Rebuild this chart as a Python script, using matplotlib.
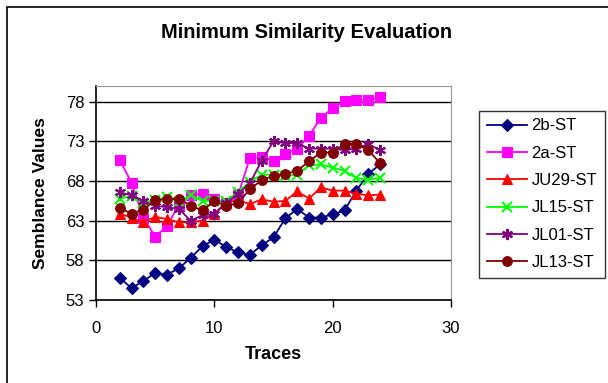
import matplotlib
matplotlib.use("Agg")
import matplotlib.pyplot as plt
from matplotlib.patches import Rectangle

plt.rcParams['font.family'] = ['Liberation Sans', 'DejaVu Sans']

# data
traces = list(range(2, 25))
st_2b = [55.8, 54.5, 55.4, 56.4, 56.2, 57.0, 58.3, 59.8, 60.6, 59.7, 59.0, 58.7,
         59.9, 60.9, 63.3, 64.5, 63.4, 63.4, 63.8, 64.3, 66.8, 68.9, 70.1]
st_2a = [70.7, 67.8, 63.4, 61.0, 62.3, 65.0, 66.2, 66.4, 65.7, 65.3, 66.2, 70.9,
         71.0, 70.6, 71.4, 72.1, 73.7, 76.0, 77.2, 78.1, 78.2, 78.2, 78.6]
ju29 = [63.9, 63.4, 62.8, 63.5, 63.2, 62.8, 62.8, 63.0, 63.9, 65.3, 65.6, 65.1,
        65.7, 65.4, 65.5, 66.7, 65.8, 67.2, 66.8, 66.8, 66.4, 66.2, 66.3]
jl15 = [65.8, 66.1, 65.3, 65.6, 66.0, 65.4, 66.2, 65.5, 65.5, 65.5, 66.6, 67.9,
        68.8, 68.8, 68.7, 68.8, 70.0, 70.1, 69.7, 69.3, 68.4, 68.2, 68.4]
jl01 = [66.6, 66.2, 65.5, 64.9, 64.7, 64.5, 63.0, 63.7, 63.8, 65.3, 66.4, 67.7,
        70.6, 73.0, 72.8, 72.8, 72.1, 72.1, 72.1, 71.9, 72.1, 72.7, 71.9]
jl13 = [64.6, 63.9, 64.4, 65.6, 65.7, 65.8, 64.9, 64.3, 65.5, 64.9, 65.2, 67.0,
        68.1, 68.7, 68.9, 69.3, 70.5, 71.6, 71.6, 72.7, 72.7, 71.9, 70.3]

names = ["2b-ST", "2a-ST", "JU29-ST", "JL15-ST", "JL01-ST", "JL13-ST"]
series = [st_2b, st_2a, ju29, jl15, jl01, jl13]
colors = ["#000080", "#FF00FF", "#FF0000", "#00FF00", "#800080", "#800000"]
markers = ["D", "s", "^", "x", (6, 2, 0), "o"]
msizes = [6, 6.5, 7, 7, 8, 7]

W, H = 608, 383
fig = plt.figure(figsize=(W / 100, H / 100), dpi=100)
ax = fig.add_axes([96 / W, 1 - 300 / H, (451 - 96) / W, (300 - 86) / H])

for name, ys, c, m, ms in zip(names, series, colors, markers, msizes):
    ax.plot(traces, ys, color=c, marker=m, markersize=ms, linewidth=1.3,
            markeredgewidth=1.5 if m in ("x", (6, 2, 0)) else 0.8,
            markeredgecolor=c, label=name)

ax.set_xlim(0, 30)
ax.set_ylim(53, 80)
ax.set_xticks([0, 10, 20, 30])
ax.set_yticks([53, 58, 63, 68, 73, 78])
ax.yaxis.grid(True, color="black", linewidth=1)
ax.set_axisbelow(True)
ax.tick_params(labelsize=12, direction="out", length=5, width=1, color="black")
ax.tick_params(axis="x", pad=10)
for s in ("top", "right"):
    ax.spines[s].set_color("#999999")
for s in ("left", "bottom"):
    ax.spines[s].set_color("black")
    ax.spines[s].set_linewidth(1.2)

ax.set_xlabel("Traces", fontsize=13, fontweight="bold", labelpad=7)
ax.set_ylabel("Semblance Values", fontsize=12.5, fontweight="bold", labelpad=13)

fig.text(0.505, 1 - 33 / H, "Minimum Similarity Evaluation", ha="center", va="center",
         fontsize=14.5, fontweight="bold")

leg = fig.legend(loc="upper left", bbox_to_anchor=(479 / W, 1 - 111 / H),
                 bbox_transform=fig.transFigure, fontsize=12, frameon=True,
                 fancybox=False, edgecolor="black", handlelength=2.4,
                 handletextpad=0.3, labelspacing=0.74, borderpad=0.45,
                 borderaxespad=0)
leg.get_frame().set_linewidth(1)

# chart area border
fig.patches.append(Rectangle((7 / W, -0.05), 1.2, 1 - 7 / H + 0.05, transform=fig.transFigure,
                             fill=False, edgecolor="black", linewidth=1.2))

fig.savefig("out.png", dpi=100)
